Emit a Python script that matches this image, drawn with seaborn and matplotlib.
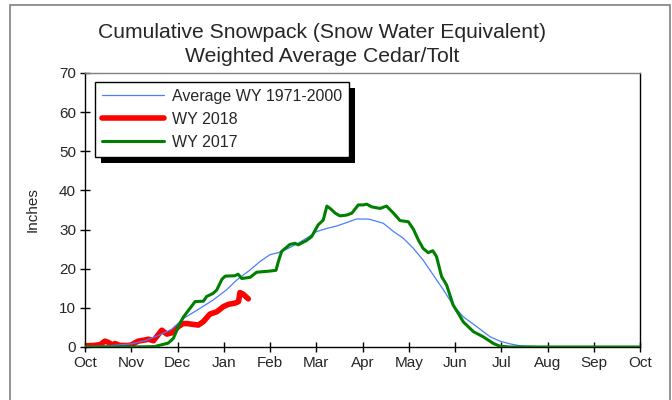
import numpy as np
import pandas as pd
import matplotlib
matplotlib.use("Agg")
import matplotlib.pyplot as plt
import seaborn as sns
from matplotlib.patches import Rectangle

# x in months since Oct 1 (water year), y in inches of SWE
months = ["Oct", "Nov", "Dec", "Jan", "Feb", "Mar", "Apr", "May", "Jun", "Jul", "Aug", "Sep", "Oct"]

avg_x = [0.0, 0.5, 1.0, 1.3, 1.6, 1.87, 2.13, 2.49, 2.77, 3.06, 3.28, 3.57, 3.78, 4.0, 4.18,
         4.36, 4.58, 4.79, 5.01, 5.23, 5.44, 5.66, 5.87, 6.09, 6.16, 6.45, 6.67, 6.88, 7.10,
         7.31, 7.53, 7.75, 7.96, 8.18, 8.47, 8.76, 8.97, 9.19, 9.41, 9.99, 12.0]
avg_y = [0.1, 0.3, 0.8, 1.6, 3.0, 4.5, 7.3, 9.9, 12.0, 14.6, 17.1, 19.7, 21.8, 23.6, 24.1,
         25.0, 26.3, 27.8, 29.5, 30.3, 30.9, 31.8, 32.7, 32.7, 32.6, 31.6, 29.5, 27.8, 25.2,
         22.2, 18.4, 14.6, 10.7, 7.7, 5.2, 2.6, 1.5, 0.8, 0.3, 0.0, 0.0]

wy18_x = [0.0, 0.2, 0.33, 0.43, 0.5, 0.6, 0.65, 0.75, 0.9, 1.0, 1.1, 1.15, 1.3, 1.37, 1.48,
          1.6, 1.66, 1.77, 1.87, 2.02, 2.12, 2.2, 2.45, 2.56, 2.7, 2.85, 2.99, 3.1, 3.24,
          3.32, 3.35, 3.42, 3.53]
wy18_y = [0.3, 0.4, 0.6, 1.5, 1.2, 0.5, 0.9, 0.4, 0.4, 0.5, 1.2, 1.5, 1.8, 2.0, 1.6,
          3.4, 4.3, 3.3, 3.6, 5.2, 6.0, 6.0, 5.6, 6.5, 8.4, 9.0, 10.3, 10.9, 11.2,
          11.6, 13.9, 13.5, 12.3]

wy17_x = [0.0, 1.0, 1.5, 1.8, 1.91, 2.02, 2.05, 2.13, 2.38, 2.56, 2.63, 2.77, 2.85, 2.96,
          3.03, 3.24, 3.31, 3.39, 3.57, 3.71, 4.0, 4.13, 4.18, 4.25, 4.43, 4.54, 4.61, 4.69,
          4.79, 4.90, 5.04, 5.15, 5.23, 5.30, 5.41, 5.51, 5.66, 5.77, 5.91, 6.02, 6.09, 6.20,
          6.38, 6.52, 6.67, 6.81, 6.99, 7.10, 7.21, 7.31, 7.42, 7.52, 7.60, 7.71, 7.82, 7.96,
          8.07, 8.18, 8.40, 8.61, 8.83, 8.97, 9.19, 12.0]
wy17_y = [0.0, 0.0, 0.1, 1.0, 2.2, 5.2, 6.0, 7.7, 11.6, 11.7, 12.9, 13.7, 14.6, 17.3,
          18.1, 18.2, 18.6, 17.5, 17.8, 19.1, 19.4, 19.6, 21.8, 24.4, 26.2, 26.5, 26.1, 26.6,
          27.2, 28.2, 31.2, 32.4, 36.0, 35.4, 34.2, 33.5, 33.7, 34.2, 36.3, 36.3, 36.5, 35.8,
          35.4, 36.0, 34.2, 32.3, 32.0, 30.1, 27.3, 25.2, 24.1, 24.6, 23.1, 18.0, 15.8, 10.7,
          8.6, 6.4, 3.9, 2.6, 0.9, 0.2, 0.0, 0.0]

sns.set_style("ticks")
plt.rcParams['font.family'] = ['Liberation Sans', 'DejaVu Sans']

fig = plt.figure(figsize=(6.72, 4.0), dpi=100)
ax = fig.add_axes([85/672, 53/400, 555/672, 274/400])

sns.lineplot(x=wy18_x, y=wy18_y, ax=ax, color="#ff0000", linewidth=4.0, label="WY 2018",
             sort=False, solid_capstyle="round", zorder=2)
sns.lineplot(x=avg_x, y=avg_y, ax=ax, color="#4a7dff", linewidth=0.9, label="Average WY 1971-2000",
             sort=False, zorder=3)
sns.lineplot(x=wy17_x, y=wy17_y, ax=ax, color="#008000", linewidth=2.2, label="WY 2017",
             sort=False, zorder=4)

ax.set_xlim(0, 12)
ax.set_ylim(0, 70)
ax.set_xticks(range(13))
ax.set_xticklabels(months)
ax.set_yticks(range(0, 71, 10))
ax.tick_params(direction="inout", length=7, width=1, labelsize=11, color="black", pad=3)
ax.set_ylabel("Inches", fontsize=11, labelpad=14)
ax.set_xlabel("")
for s in ax.spines.values():
    s.set_color("black")
    s.set_linewidth(1)
ax.spines["top"].set_color("#808080")

h, l = ax.get_legend_handles_labels()
order = [1, 0, 2]
leg = ax.legend([h[i] for i in order], [l[i] for i in order], loc="upper left",
                bbox_to_anchor=(0.018, 0.968), fontsize=11.5, frameon=True, fancybox=False,
                framealpha=1, facecolor="white",
                handlelength=3.9, labelspacing=0.5, borderpad=0.45, handletextpad=0.45,
                borderaxespad=0)
leg.get_frame().set_edgecolor("black")
leg.get_frame().set_linewidth(1)
leg.set_zorder(10)

fig.text(322/672, 1 - 33/400, "Cumulative Snowpack (Snow Water Equivalent)", ha="center",
         va="center", fontsize=15.2)
fig.text(322/672, 1 - 56/400, "Weighted Average Cedar/Tolt", ha="center", va="center",
         fontsize=15.2)

# outer frame
fig.add_artist(Rectangle((10/672, -0.05), 660/672, 1.05 - 5/400, transform=fig.transFigure,
                         fill=False, edgecolor="#808080", linewidth=1.2))

# black drop shadow behind legend
fig.canvas.draw()
bb = leg.get_window_extent().transformed(ax.transAxes.inverted())
sh = Rectangle((bb.x0 + 6/555, bb.y0 - 6/274), bb.width, bb.height, transform=ax.transAxes,
               facecolor="black", edgecolor="none", clip_on=False, zorder=9)
ax.add_patch(sh)

fig.savefig("out.png", dpi=100)
